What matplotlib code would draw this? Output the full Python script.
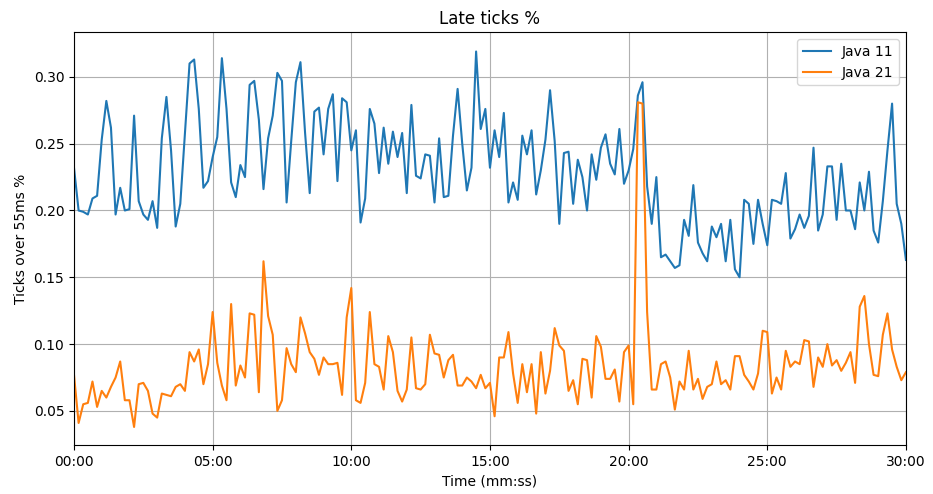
import numpy as np
import matplotlib
matplotlib.use("Agg")
import matplotlib.pyplot as plt
from matplotlib.ticker import FuncFormatter, MultipleLocator

# one sample every 10 s, 0..1800 s
step = 10
java11 = [
    0.232, 0.200, 0.199, 0.197, 0.209, 0.211, 0.253, 0.282, 0.262, 0.197,
    0.217, 0.200, 0.201, 0.271, 0.207, 0.197, 0.193, 0.207, 0.187, 0.254,
    0.285, 0.245, 0.188, 0.205, 0.257, 0.310, 0.313, 0.276, 0.217, 0.222,
    0.240, 0.255, 0.314, 0.276, 0.221, 0.210, 0.234, 0.225, 0.294, 0.297,
    0.268, 0.216, 0.254, 0.271, 0.303, 0.297, 0.206, 0.252, 0.296, 0.311,
    0.258, 0.213, 0.274, 0.277, 0.242, 0.276, 0.287, 0.222, 0.284, 0.281,
    0.245, 0.260, 0.191, 0.209, 0.276, 0.265, 0.228, 0.262, 0.235, 0.259,
    0.240, 0.258, 0.213, 0.279, 0.226, 0.224, 0.242, 0.241, 0.206, 0.254,
    0.210, 0.211, 0.256, 0.291, 0.250, 0.215, 0.232, 0.319, 0.261, 0.276,
    0.232, 0.260, 0.240, 0.273, 0.206, 0.221, 0.208, 0.256, 0.242, 0.260,
    0.212, 0.230, 0.253, 0.290, 0.252, 0.190, 0.243, 0.244, 0.205, 0.238,
    0.225, 0.200, 0.242, 0.223, 0.247, 0.257, 0.235, 0.227, 0.261, 0.220,
    0.230, 0.246, 0.286, 0.296, 0.218, 0.190, 0.225, 0.165, 0.167, 0.162,
    0.157, 0.159, 0.193, 0.181, 0.219, 0.176, 0.168, 0.162, 0.188, 0.180,
    0.190, 0.162, 0.193, 0.156, 0.150, 0.208, 0.205, 0.175, 0.208, 0.190,
    0.174, 0.208, 0.207, 0.205, 0.228, 0.179, 0.186, 0.197, 0.187, 0.196,
    0.247, 0.185, 0.197, 0.233, 0.233, 0.193, 0.235, 0.200, 0.200, 0.186,
    0.221, 0.200, 0.229, 0.185, 0.176, 0.207, 0.245, 0.280, 0.205, 0.190,
    0.163,
]
java21 = [
    0.077, 0.041, 0.055, 0.056, 0.072, 0.053, 0.065, 0.060, 0.068, 0.075,
    0.087, 0.058, 0.058, 0.038, 0.070, 0.071, 0.065, 0.048, 0.045, 0.063,
    0.062, 0.061, 0.068, 0.070, 0.065, 0.094, 0.087, 0.096, 0.070, 0.085,
    0.124, 0.086, 0.069, 0.058, 0.130, 0.069, 0.084, 0.075, 0.123, 0.122,
    0.064, 0.162, 0.121, 0.107, 0.050, 0.058, 0.097, 0.085, 0.079, 0.120,
    0.108, 0.094, 0.089, 0.077, 0.090, 0.085, 0.085, 0.086, 0.062, 0.120,
    0.142, 0.058, 0.056, 0.071, 0.124, 0.085, 0.083, 0.066, 0.106, 0.094,
    0.065, 0.057, 0.066, 0.105, 0.067, 0.066, 0.070, 0.107, 0.093, 0.092,
    0.075, 0.088, 0.092, 0.069, 0.069, 0.075, 0.072, 0.067, 0.077, 0.067,
    0.071, 0.046, 0.090, 0.090, 0.109, 0.078, 0.056, 0.085, 0.064, 0.085,
    0.048, 0.094, 0.063, 0.080, 0.112, 0.099, 0.095, 0.065, 0.073, 0.055,
    0.089, 0.088, 0.060, 0.106, 0.098, 0.074, 0.074, 0.081, 0.057, 0.094,
    0.099, 0.055, 0.281, 0.280, 0.124, 0.066, 0.066, 0.085, 0.087, 0.075,
    0.051, 0.072, 0.066, 0.095, 0.066, 0.074, 0.059, 0.068, 0.070, 0.087,
    0.070, 0.073, 0.066, 0.091, 0.091, 0.077, 0.072, 0.066, 0.078, 0.110,
    0.109, 0.063, 0.075, 0.066, 0.095, 0.083, 0.087, 0.085, 0.103, 0.102,
    0.068, 0.090, 0.083, 0.100, 0.084, 0.088, 0.080, 0.086, 0.094, 0.071,
    0.128, 0.136, 0.100, 0.077, 0.076, 0.107, 0.123, 0.096, 0.083, 0.073,
    0.079,
]
t = np.arange(len(java11)) * step


def mmss(x, pos):
    return "%02d:%02d" % (int(x) // 60, int(x) % 60)


fig = plt.figure(figsize=(9.33, 4.94), dpi=100)
ax = fig.add_axes([0.0793, 0.0992, 0.8917, 0.8358])
ax.plot(t, java11, color="#1f77b4", lw=1.5, label="Java 11")
ax.plot(t, java21, color="#ff7f0e", lw=1.5, label="Java 21")
ax.set_xlim(0, 1800)
ax.set_ylim(0.0245, 0.3335)
ax.xaxis.set_major_locator(MultipleLocator(300))
ax.xaxis.set_major_formatter(FuncFormatter(mmss))
ax.grid(True, color="#b0b0b0", lw=0.8)
ax.set_title("Late ticks %")
ax.set_xlabel("Time (mm:ss)")
ax.set_ylabel("Ticks over 55ms %")
ax.legend(loc="upper right")
fig.savefig("out.png")
